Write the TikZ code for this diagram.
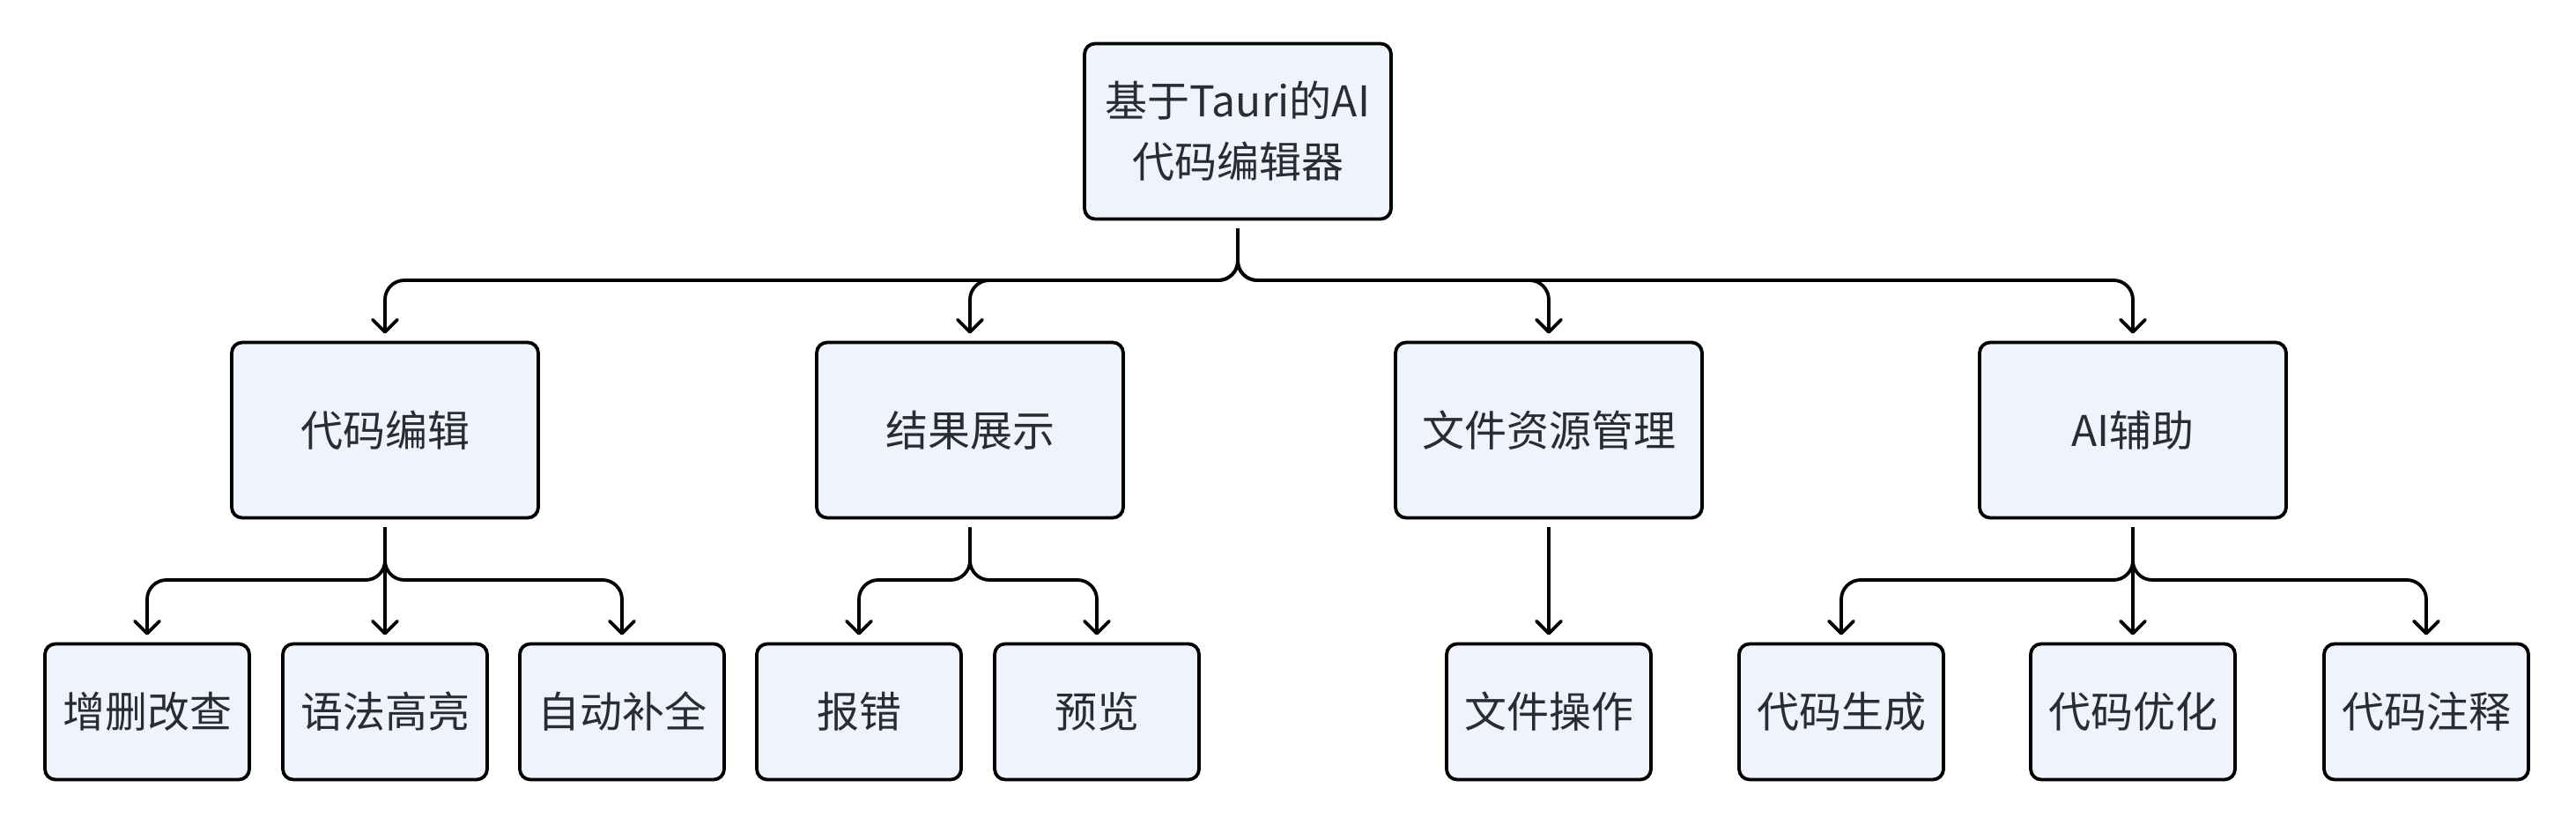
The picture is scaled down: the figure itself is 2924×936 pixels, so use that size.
\documentclass[tikz,border=0pt]{standalone}
\usepackage{fontspec}
\setmainfont{Noto Sans CJK SC}
\usepackage{xcolor}
\usepackage{tikz}
\usetikzlibrary{arrows.meta}
\definecolor{boxfill}{HTML}{EFF3FB}
\definecolor{boxtext}{HTML}{282C34}

\begin{document}
\begin{tikzpicture}[x=0.5pt,y=-0.5pt,
  big/.style={draw,rounded corners=6pt,line width=1.9pt,fill=boxfill,text=boxtext,
    font=\fontsize{24pt}{34.5pt}\selectfont,align=center,minimum width=174pt,minimum height=99.5pt},
  small/.style={big,minimum width=116pt,minimum height=77pt},
  link/.style={line width=1.9pt,rounded corners=11pt,-{Straight Barb[length=7pt,width=14pt,round]},
    shorten <=4.5pt,shorten >=4pt}]
\useasboundingbox (0,0) rectangle (2924,936);
\coordinate (bus0) at (0,318);
\coordinate (bus1) at (0,658);
\node (root) at (1405,149) [big] {基于Tauri的AI\\代码编辑器};
\node (edit) at (437,488) [big] {代码编辑};
\node (result) at (1101,488) [big] {结果展示};
\node (files) at (1758,488) [big] {文件资源管理};
\node (aihelp) at (2421,488) [big] {AI辅助};
\node (crud) at (167,807.5) [small] {增删改查};
\node (syntax) at (437,807.5) [small] {语法高亮};
\node (complete) at (706,807.5) [small] {自动补全};
\node (error) at (975,807.5) [small] {报错};
\node (preview) at (1245,807.5) [small] {预览};
\node (fileop) at (1758,807.5) [small] {文件操作};
\node (gen) at (2090,807.5) [small] {代码生成};
\node (opt) at (2421,807.5) [small] {代码优化};
\node (comment) at (2754,807.5) [small] {代码注释};
\draw[link] (root.south) -- (root.south |- bus0) -| (edit.north);
\draw[link] (root.south) -- (root.south |- bus0) -| (result.north);
\draw[link] (root.south) -- (root.south |- bus0) -| (files.north);
\draw[link] (root.south) -- (root.south |- bus0) -| (aihelp.north);
\draw[link] (edit.south) -- (edit.south |- bus1) -| (crud.north);
\draw[link] (edit.south) -- (syntax.north);
\draw[link] (edit.south) -- (edit.south |- bus1) -| (complete.north);
\draw[link] (result.south) -- (result.south |- bus1) -| (error.north);
\draw[link] (result.south) -- (result.south |- bus1) -| (preview.north);
\draw[link] (files.south) -- (fileop.north);
\draw[link] (aihelp.south) -- (aihelp.south |- bus1) -| (gen.north);
\draw[link] (aihelp.south) -- (opt.north);
\draw[link] (aihelp.south) -- (aihelp.south |- bus1) -| (comment.north);
\end{tikzpicture}
\end{document}
